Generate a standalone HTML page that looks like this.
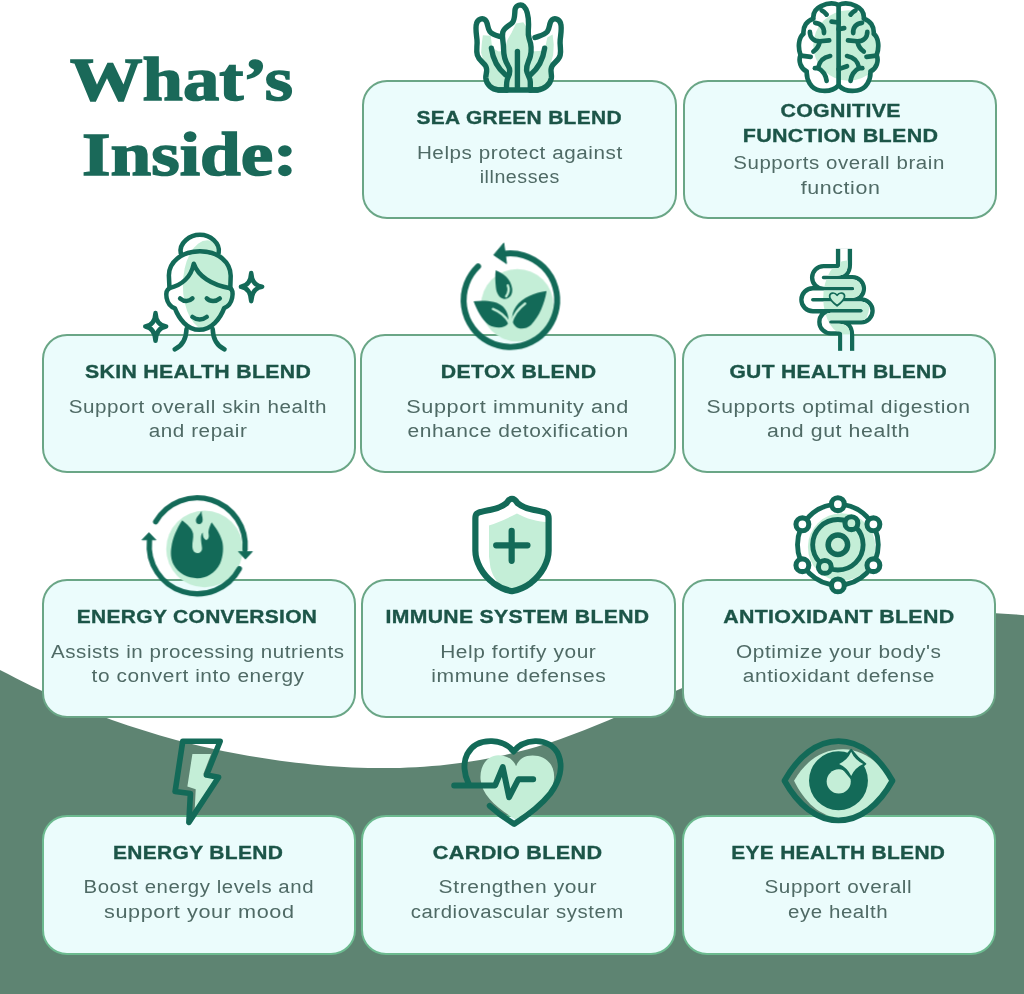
<!DOCTYPE html><html><head><meta charset="utf-8"><style>
*{margin:0;padding:0;box-sizing:border-box}
html,body{width:1024px;height:994px;overflow:hidden;background:#fff}
body{position:relative;font-family:"Liberation Sans",sans-serif}
.bg{position:absolute;left:0;top:0;width:1024px;height:994px}
.card{position:absolute;background:#ebfcfc;border:2.8px solid #6aa686;border-radius:25px}
.card.dk{border-color:#6cba8f}
.t,.d{position:absolute;width:600px;text-align:center;white-space:nowrap}
.t span,.d span{display:inline-block;will-change:transform}
.t{font-weight:700;font-size:19px;line-height:25px;height:25px;color:#1c5548;letter-spacing:0.3px;-webkit-text-stroke:0.35px #1c5548}
.d{font-weight:400;font-size:18px;line-height:25px;height:25px;color:#4f6a65;letter-spacing:0.5px}
.h{position:absolute;font-family:"Liberation Serif",serif;font-weight:700;font-size:62px;line-height:64px;color:#1a6959;white-space:nowrap;-webkit-text-stroke:1.5px #1a6959}
.h span{display:inline-block;transform-origin:0 0}
.ic{position:absolute;overflow:visible}
</style></head><body>
<svg class="bg" viewBox="0 0 1024 994"><path d="M0,994 L0,669.9 L8,674.1 L16,678.3 L24,682.3 L32,686.3 L40,690.1 L48,693.8 L56,697.4 L64,700.9 L72,704.3 L80,707.7 L88,710.9 L96,714.0 L104,717.0 L112,719.9 L120,722.7 L128,725.4 L136,728.1 L144,730.6 L152,733.1 L160,735.4 L168,737.7 L176,739.9 L184,742.0 L192,744.0 L200,745.9 L208,747.7 L216,749.5 L224,751.2 L232,752.8 L240,754.3 L248,755.7 L256,757.1 L264,758.3 L272,759.6 L280,760.7 L288,761.7 L296,762.7 L304,763.6 L312,764.5 L320,765.2 L328,765.9 L336,766.5 L344,767.0 L352,767.4 L360,767.7 L368,767.9 L376,768.1 L384,768.1 L392,768.0 L400,767.9 L408,767.6 L416,767.2 L424,766.7 L432,766.1 L440,765.4 L448,764.5 L456,763.6 L464,762.5 L472,761.3 L480,760.0 L488,758.5 L496,756.9 L504,755.2 L512,753.3 L520,751.3 L528,749.2 L536,746.9 L544,744.5 L552,741.9 L560,739.2 L568,736.3 L576,733.3 L584,730.3 L592,727.1 L600,723.8 L608,720.5 L616,717.1 L624,713.7 L632,710.2 L640,706.6 L648,703.1 L656,699.5 L664,696.0 L672,692.4 L680,688.9 L688,685.4 L696,681.9 L704,678.5 L712,675.1 L720,671.8 L728,668.5 L736,665.3 L744,662.2 L752,659.1 L760,656.1 L768,653.2 L776,650.4 L784,647.7 L792,645.0 L800,642.5 L808,640.0 L816,637.6 L824,635.4 L832,633.2 L840,631.1 L848,629.1 L856,627.3 L864,625.5 L872,623.8 L880,622.3 L888,620.8 L896,619.5 L904,618.3 L912,617.2 L920,616.2 L928,615.4 L936,614.7 L944,614.0 L952,613.6 L960,613.2 L968,613.0 L976,612.9 L984,612.9 L992,613.1 L1000,613.4 L1008,613.9 L1016,614.4 L1024,615.2 L1024,994 Z" fill="#5e8472"/></svg>
<div class="h" style="left:70px;top:47.4px"><span style="transform:scaleX(1.17)">What&rsquo;s</span></div>
<div class="h" style="left:82px;top:122px"><span style="transform:scaleX(1.18)">Inside:</span></div>
<div class="card" style="left:362px;top:80px;width:315px;height:139px"></div>
<div class="card" style="left:683px;top:80px;width:314px;height:139px"></div>
<div class="card" style="left:42px;top:334px;width:314px;height:139px"></div>
<div class="card" style="left:360px;top:334px;width:316px;height:139px"></div>
<div class="card" style="left:682px;top:334px;width:314px;height:139px"></div>
<div class="card" style="left:42px;top:579px;width:313.5px;height:138.5px"></div>
<div class="card" style="left:361px;top:579px;width:315px;height:138.5px"></div>
<div class="card" style="left:682px;top:579px;width:313.5px;height:138.5px"></div>
<div class="card dk" style="left:42px;top:814.5px;width:313.5px;height:140px"></div>
<div class="card dk" style="left:361px;top:814.5px;width:315px;height:140px"></div>
<div class="card dk" style="left:682px;top:814.5px;width:313.5px;height:140px"></div>
<div class="t" style="left:219.5px;top:105.4px"><span style="transform:scaleX(1.102)">SEA GREEN BLEND</span></div>
<div class="d" style="left:219.5px;top:140.6px"><span style="transform:scaleX(1.146)">Helps protect against</span></div>
<div class="d" style="left:220.1px;top:165.3px"><span style="transform:scaleX(1.090)">illnesses</span></div>
<div class="t" style="left:540.3px;top:97.8px"><span style="transform:scaleX(1.123)">COGNITIVE</span></div>
<div class="t" style="left:540.1px;top:122.7px"><span style="transform:scaleX(1.131)">FUNCTION BLEND</span></div>
<div class="d" style="left:539.1px;top:151.1px"><span style="transform:scaleX(1.137)">Supports overall brain</span></div>
<div class="d" style="left:540.1px;top:175.5px"><span style="transform:scaleX(1.189)">function</span></div>
<div class="t" style="left:-101.7px;top:359.4px"><span style="transform:scaleX(1.119)">SKIN HEALTH BLEND</span></div>
<div class="d" style="left:-101.9px;top:394.6px"><span style="transform:scaleX(1.145)">Support overall skin health</span></div>
<div class="d" style="left:-101.7px;top:419.3px"><span style="transform:scaleX(1.146)">and repair</span></div>
<div class="t" style="left:218.1px;top:359.4px"><span style="transform:scaleX(1.118)">DETOX BLEND</span></div>
<div class="d" style="left:217.4px;top:394.6px"><span style="transform:scaleX(1.203)">Support immunity and</span></div>
<div class="d" style="left:218.1px;top:419.3px"><span style="transform:scaleX(1.164)">enhance detoxification</span></div>
<div class="t" style="left:538.7px;top:359.4px"><span style="transform:scaleX(1.108)">GUT HEALTH BLEND</span></div>
<div class="d" style="left:538.5px;top:394.6px"><span style="transform:scaleX(1.173)">Supports optimal digestion</span></div>
<div class="d" style="left:538.1px;top:419.3px"><span style="transform:scaleX(1.182)">and gut health</span></div>
<div class="t" style="left:-102.5px;top:604.4px"><span style="transform:scaleX(1.103)">ENERGY CONVERSION</span></div>
<div class="d" style="left:-101.8px;top:639.6px"><span style="transform:scaleX(1.140)">Assists in processing nutrients</span></div>
<div class="d" style="left:-101.6px;top:664.3px"><span style="transform:scaleX(1.157)">to convert into energy</span></div>
<div class="t" style="left:217.0px;top:604.4px"><span style="transform:scaleX(1.114)">IMMUNE SYSTEM BLEND</span></div>
<div class="d" style="left:218.4px;top:639.6px"><span style="transform:scaleX(1.161)">Help fortify your</span></div>
<div class="d" style="left:218.7px;top:664.3px"><span style="transform:scaleX(1.170)">immune defenses</span></div>
<div class="t" style="left:538.4px;top:604.4px"><span style="transform:scaleX(1.125)">ANTIOXIDANT BLEND</span></div>
<div class="d" style="left:538.7px;top:639.6px"><span style="transform:scaleX(1.157)">Optimize your body's</span></div>
<div class="d" style="left:538.7px;top:664.3px"><span style="transform:scaleX(1.160)">antioxidant defense</span></div>
<div class="t" style="left:-101.6px;top:839.9px"><span style="transform:scaleX(1.104)">ENERGY BLEND</span></div>
<div class="d" style="left:-101.6px;top:875.1px"><span style="transform:scaleX(1.132)">Boost energy levels and</span></div>
<div class="d" style="left:-101.1px;top:899.8px"><span style="transform:scaleX(1.202)">support your mood</span></div>
<div class="t" style="left:218.0px;top:839.9px"><span style="transform:scaleX(1.136)">CARDIO BLEND</span></div>
<div class="d" style="left:218.0px;top:875.1px"><span style="transform:scaleX(1.168)">Strengthen your</span></div>
<div class="d" style="left:217.5px;top:899.8px"><span style="transform:scaleX(1.130)">cardiovascular system</span></div>
<div class="t" style="left:538.1px;top:839.9px"><span style="transform:scaleX(1.101)">EYE HEALTH BLEND</span></div>
<div class="d" style="left:538.0px;top:875.1px"><span style="transform:scaleX(1.148)">Support overall</span></div>
<div class="d" style="left:538.0px;top:899.8px"><span style="transform:scaleX(1.138)">eye health</span></div>
<svg class="ic" style="left:460px;top:0px;width:120px;height:100px" viewBox="0 0 1024 853.3">
<path d="M400,765 L330,765 C270,760 225,720 220,665 C218,630 240,600 220,565 C200,530 160,515 148,470 C135,420 150,390 145,340 C140,290 130,240 140,205 C150,165 190,150 215,170 C240,190 232,240 255,270 C280,300 320,305 355,315 C370,280 400,235 445,195 C470,170 465,120 470,80 C478,45 520,30 545,55 C575,85 585,150 585,210 C585,260 575,290 590,330 C620,310 680,300 745,270 C768,240 760,190 785,170 C810,150 850,165 860,205 C870,240 860,290 855,340 C850,390 865,420 855,470 C845,515 805,530 785,565 C765,600 785,630 780,665 C770,720 720,760 660,765 Z" fill="#fff"/>
<g fill="#c4eed7">
<path d="M195,300 L262,305 L275,410 L330,440 L370,432 L385,500 L420,570 L420,640 L400,700 L395,745 L330,760 L255,720 L230,650 L232,580 L200,520 L180,450 L185,380 Z"/>
<path d="M478,200 L540,190 L580,250 L585,330 L600,400 L598,470 L570,550 L570,620 L600,690 L600,750 L400,750 L405,660 L428,600 L400,540 L385,470 L385,400 L405,340 L440,280 Z"/>
<path d="M610,440 L700,432 L728,400 L745,320 L790,295 L800,380 L795,470 L780,520 L770,580 L780,650 L740,720 L650,760 L600,750 L595,680 L572,610 L575,540 L600,470 Z"/>
</g>
<g fill="none" stroke="#136a58" stroke-width="46" stroke-linecap="round" stroke-linejoin="round">
<path d="M600,768 L660,768 C720,763 770,720 780,665 C785,630 765,600 785,565 C805,530 845,515 855,470 C865,420 850,390 855,340 C860,290 870,240 860,205 C850,165 810,150 785,170 C760,190 768,240 745,270 C720,300 680,305 640,320"/>
<path d="M400,768 L330,768 C270,763 225,720 220,665 C218,630 240,600 220,565 C200,530 160,515 148,470 C135,420 150,390 145,340 C140,290 130,240 140,205 C150,165 190,150 215,170 C240,190 232,240 255,270 C280,300 320,305 355,315"/>
<path d="M398,768 C395,720 395,690 410,660 C430,620 430,590 410,560 C385,520 372,480 372,420 C372,360 355,320 365,275 C375,235 420,220 445,195 C470,170 465,120 470,80 C478,45 520,30 545,55 C575,85 585,150 585,210 C585,260 575,290 590,330 C605,370 615,420 600,480 C590,520 565,550 568,600 C572,640 600,660 600,700 L600,768"/>
<path d="M330,768 L660,768"/>
<path d="M268,412 C280,500 320,580 390,640"/>
<path d="M490,440 L490,760"/>
<path d="M722,412 C710,500 670,580 600,640"/>
</g>
</svg>

<svg class="ic" style="left:780px;top:0px;width:120px;height:100px" viewBox="0 0 1024 853.3">
<defs><clipPath id="brc"><path id="brout" d="M500,42 C460,25 400,28 350,52 C300,75 280,110 285,160 C230,175 195,225 200,290 C160,320 150,400 175,470 C155,520 175,585 228,610 C225,680 262,760 340,772 C420,785 470,760 500,728 C530,760 580,785 660,772 C738,760 775,680 772,610 C825,585 845,520 825,470 C850,400 840,320 800,290 C805,225 770,175 715,160 C720,110 700,75 650,52 C600,28 540,25 500,42 Z"/></clipPath></defs>
<use href="#brout" fill="#fff"/>
<g clip-path="url(#brc)"><circle cx="584" cy="388" r="300" fill="#c4eed7"/></g>
<g fill="none" stroke="#136a58" stroke-width="40" stroke-linecap="round" stroke-linejoin="round">
<use href="#brout"/>
<path d="M500,45 L500,728"/>
<path d="M398,125 C385,105 370,95 355,88"/>
<path d="M602,125 C615,105 630,95 645,88"/>
<path d="M375,282 C380,235 350,200 300,195"/>
<path d="M625,282 C620,235 650,200 700,195"/>
<path d="M255,272 C255,320 290,352 340,352 L420,345"/>
<path d="M745,272 C745,320 710,352 660,352 L580,345"/>
<path d="M340,355 C330,400 310,425 285,440"/>
<path d="M660,355 C670,400 690,425 715,440"/>
<path d="M178,475 L262,485"/>
<path d="M822,475 L738,485"/>
<path d="M428,478 C370,488 335,520 325,582 C360,600 390,640 398,690"/>
<path d="M572,478 C630,488 665,520 675,582 C640,600 610,640 602,690"/>
<path d="M325,582 L298,582"/>
<path d="M675,582 L702,582"/>
<path d="M440,185 L500,192"/>
<path d="M500,248 L548,240"/>
<path d="M500,590 L572,565"/>
</g>
</svg>

<svg class="ic" style="left:135px;top:228px;width:140px;height:130px" viewBox="0 0 1024 950.9">
<defs>
<clipPath id="fcc"><path id="fcout" d="M330,185 C320,110 400,50 475,50 C550,50 625,110 615,180 C670,215 700,270 700,350 L698,440 C725,470 720,550 655,585 C630,660 560,745 470,745 C380,745 320,660 290,590 C225,560 220,470 250,440 L248,350 C245,270 275,215 330,185 Z"/></clipPath>
</defs>
<use href="#fcout" fill="#fff"/>
<g clip-path="url(#fcc)"><ellipse cx="530" cy="420" rx="180" ry="330" fill="#c4eed7"/></g>
<g fill="none" stroke="#136a58" stroke-width="33" stroke-linecap="round" stroke-linejoin="round">
<path d="M335,185 C320,110 400,50 475,50 C550,50 625,110 612,182"/>
<path d="M252,438 L248,350 C245,250 340,170 475,170 C610,170 700,250 700,350 L697,440"/>
<path d="M252,440 C215,460 220,560 292,588 C320,660 380,745 470,745 C560,745 625,660 652,586 C720,560 725,460 697,440"/>
<path d="M252,440 C340,420 410,360 430,262 C460,350 560,420 697,440"/>
<path d="M330,515 C360,540 395,540 420,515"/>
<path d="M525,515 C550,540 590,540 620,515"/>
<path d="M420,650 C450,675 495,675 525,650"/>
<path d="M377,738 C375,800 350,860 290,888"/>
<path d="M568,738 C570,800 595,860 655,888"/>
<path d="M850,330 Q855,420 930,430 Q855,440 850,535 Q845,440 775,430 Q845,420 850,330 Z"/>
<path d="M150,622 Q155,710 228,720 Q155,730 150,825 Q145,730 75,720 Q145,710 150,622 Z"/>
</g>
</svg>

<svg class="ic" style="left:450px;top:238px;width:120px;height:120px" viewBox="0 0 994 994">
<circle cx="557" cy="557" r="300" fill="#c4eed7"/>
<path d="M232,235 A387.5,387.5 0 1 0 440,132" fill="none" stroke="#136a58" stroke-width="50" stroke-linecap="round"/>
<path d="M362,140 L445,42 L468,212 Z" fill="#136a58" stroke="#136a58" stroke-width="8" stroke-linejoin="round"/>
<g fill="#136a58">
<path d="M378,268 C440,290 505,340 515,420 C520,470 490,505 450,505 C410,500 385,460 380,410 C375,360 372,310 378,268 Z"/>
<path d="M195,525 C280,515 390,520 440,570 C480,610 492,670 478,712 C450,750 370,748 320,718 C260,675 225,600 195,525 Z"/>
<path d="M800,440 C780,550 740,650 670,720 C630,755 570,760 540,728 C505,695 505,630 545,570 C600,490 700,455 800,440 Z"/>
</g>
<g fill="none" stroke="#c4eed7" stroke-width="20" stroke-linecap="round">
<path d="M478,392 C492,425 484,458 465,482"/>
<path d="M355,588 C410,610 460,650 488,700"/>
<path d="M622,542 C565,585 525,640 508,700"/>
</g>
</svg>

<svg class="ic" style="left:790px;top:240px;width:100px;height:120px" viewBox="0 0 828 994">
<defs>
<path id="gutc" d="M447,70 L447,205 Q447,265 387,265 L278,265 A46,46 0 0 0 278,357 L517,357 A46,46 0 0 1 517,449 L189,449 A46,46 0 0 0 189,541 L589,541 A46,46 0 0 1 589,633 L338,633 A46,46 0 0 0 338,725 L405,725 Q465,725 465,785 L465,920"/>
<clipPath id="gutm"><ellipse cx="470" cy="480" rx="195" ry="310"/></clipPath>
</defs>
<use href="#gutc" fill="none" stroke="#136a58" stroke-width="134"/>
<use href="#gutc" fill="none" stroke="#fff" stroke-width="62"/>
<g clip-path="url(#gutm)"><use href="#gutc" fill="none" stroke="#c4eed7" stroke-width="62"/></g>
<rect x="376" y="60" width="142" height="12" fill="#fff"/>
<rect x="394" y="918" width="142" height="20" fill="#ebfcfc"/><rect x="434" y="782" width="62" height="140" fill="#ebfcfc"/>
<path d="M390,545 C350,515 325,490 328,462 C332,435 370,430 390,458 C410,430 448,435 452,462 C455,490 430,515 390,545 Z" fill="#c4eed7" stroke="#136a58" stroke-width="14" stroke-linejoin="round"/>
</svg>

<svg class="ic" style="left:135px;top:490px;width:130px;height:110px" viewBox="0 0 1024 866.5">
<circle cx="548" cy="465" r="302" fill="#c4eed7"/>
<g fill="none" stroke="#136a58" stroke-width="42" stroke-linecap="round">
<path d="M163,250 A378,378 0 0 1 867,470"/>
<path d="M822,620 A378,378 0 0 1 114,400"/>
</g>
<g fill="#136a58" stroke="#136a58" stroke-width="6" stroke-linejoin="round">
<path d="M815,485 L925,485 L870,545 Z"/>
<path d="M55,393 L165,393 L110,335 Z"/>
</g>
<g fill="#136a58">
<path d="M372,238 C410,270 450,300 458,345 C462,380 450,410 452,448 C455,480 470,497 490,497 C515,497 530,480 528,455 C526,430 518,400 520,370 C522,350 528,340 534,336 C532,360 540,385 560,395 C580,390 585,370 580,345 C575,320 590,280 604,254 C630,290 670,340 686,400 C700,450 695,520 670,580 C630,660 560,695 490,695 C420,695 340,660 305,590 C280,540 280,490 287,450 C295,380 330,300 372,238 Z"/>
<path d="M525,165 C510,195 480,215 480,240 C480,258 492,268 505,268 C522,268 533,255 533,235 C533,210 522,190 525,165 Z"/>
</g>
</svg>

<svg class="ic" style="left:460px;top:490px;width:100px;height:110px" viewBox="0 0 904 994">
<defs><clipPath id="shc"><path id="shout" d="M420,118 Q470,40 520,118 C560,150 610,168 660,178 C720,190 770,198 785,212 C797,222 801,235 801,255 L801,550 C801,650 740,760 640,840 C580,885 520,905 470,915 C420,905 360,885 300,840 C200,760 139,650 139,550 L139,255 C139,235 143,222 155,212 C170,198 220,190 280,178 C330,168 380,150 420,118 Z"/></clipPath></defs>
<use href="#shout" fill="#fff"/>
<g clip-path="url(#shc)"><path d="M262,320 C330,300 420,260 515,212 C600,260 700,285 780,290 L780,600 C780,760 640,880 470,930 C380,890 300,810 275,700 L262,600 Z" fill="#c4eed7"/></g>
<g fill="none" stroke="#136a58" stroke-width="56" stroke-linecap="round" stroke-linejoin="round">
<use href="#shout"/>
<path d="M467,368 L467,640 M327,500 L610,500"/>
</g>
</svg>

<svg class="ic" style="left:785px;top:490px;width:105px;height:110px" viewBox="0 0 949 994">
<circle cx="478" cy="495" r="365" fill="#fff"/>
<circle cx="512" cy="515" r="305" fill="#c4eed7"/>
<g fill="none" stroke="#136a58" stroke-width="44">
<circle cx="478" cy="495" r="365"/>
<circle cx="478" cy="495" r="228" stroke-width="44"/>
<circle cx="478" cy="495" r="88" stroke-width="50"/>
</g>
<g fill="#fff" stroke="#136a58" stroke-width="46">
<circle cx="478" cy="128" r="58"/>
<circle cx="478" cy="862" r="58"/>
<circle cx="157" cy="310" r="58"/>
<circle cx="799" cy="310" r="58"/>
<circle cx="157" cy="680" r="58"/>
<circle cx="799" cy="680" r="58"/>
</g>
<g fill="#c4eed7" stroke="#136a58" stroke-width="46">
<circle cx="600" cy="300" r="58"/>
<circle cx="360" cy="695" r="58"/>
</g>
</svg>

<svg class="ic" style="left:160px;top:730px;width:80px;height:100px" viewBox="0 0 795 994">
<path d="M322,238 L508,238 L430,440 L550,490 L345,790 L355,588 L272,562 Z" fill="#c4eed7"/>
<path d="M226,112 L598,112 L462,448 L582,470 L287,918 L302,632 L150,612 Z" fill="none" stroke="#136a58" stroke-width="56" stroke-linejoin="round"/>
</svg>

<svg class="ic" style="left:445px;top:730px;width:130px;height:100px" viewBox="0 0 1024 787.7">
<path d="M560,285 C580,230 620,200 690,200 C790,200 860,265 860,370 C860,490 740,590 555,705 C400,610 290,510 280,390 C272,285 330,198 420,198 C490,198 540,235 560,285 Z" fill="#c4eed7"/>
<g fill="none" stroke="#136a58" stroke-width="46" stroke-linecap="round" stroke-linejoin="round">
<path d="M185,420 C150,350 140,260 175,190 C215,115 290,85 370,88 C450,92 510,130 540,170 C570,130 630,92 710,88 C790,85 865,125 895,200 C930,290 905,400 830,500 C750,600 640,680 545,740 C480,700 410,650 352,597"/>
<path d="M72,437 L395,437 L455,292 L505,530 L578,388 L695,388"/>
</g>
</svg>

<svg class="ic" style="left:775px;top:730px;width:130px;height:100px" viewBox="0 0 1024 787.7">
<path d="M150,400 C250,230 380,150 540,152 C700,155 830,260 912,400 C830,560 690,690 520,690 C350,690 230,560 150,400 Z" fill="#c4eed7"/>
<path d="M75,400 C180,210 330,88 500,88 C670,88 820,210 925,400 C820,590 670,712 500,712 C330,712 180,590 75,400 Z" fill="none" stroke="#136a58" stroke-width="46" stroke-linejoin="round"/>
<circle cx="500" cy="400" r="232" fill="#136a58"/>
<circle cx="502" cy="405" r="95" fill="#c4eed7"/>
<path d="M600,155 Q648,219 712,267 Q648,315 600,379 Q552,315 488,267 Q552,219 600,155 Z" fill="#136a58" stroke="#136a58" stroke-width="14" stroke-linejoin="round"/><path d="M600,172 Q629,238 695,267 Q629,296 600,362 Q571,296 505,267 Q571,238 600,172 Z" fill="#c4eed7"/>
</svg>

</body></html>
